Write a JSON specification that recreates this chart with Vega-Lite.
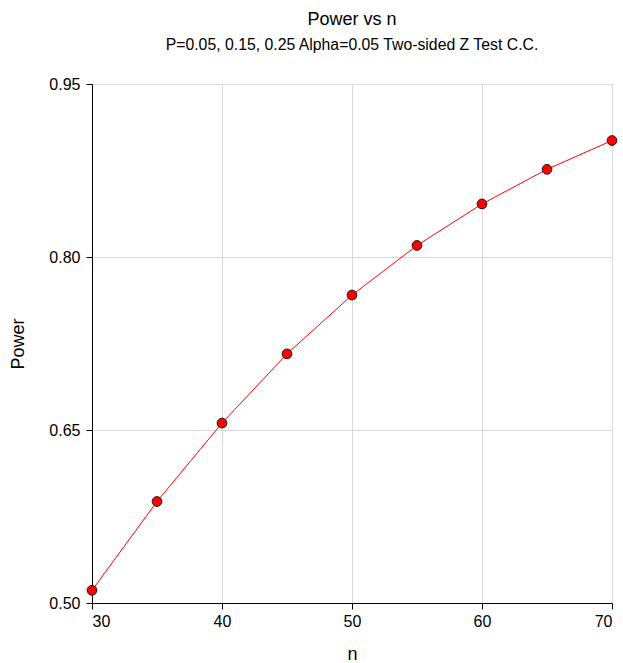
{
  "$schema": "https://vega.github.io/schema/vega-lite/v6.json",
  "width": 520,
  "height": 519,
  "autosize": {"type": "none"},
  "padding": {"left": 92, "top": 84, "right": 11, "bottom": 60},
  "background": "white",
  "config": {
    "font": "Liberation Sans",
    "view": {"stroke": null},
    "axis": {
      "domainColor": "#000000",
      "tickColor": "#000000",
      "gridColor": "#d9d9d9",
      "labelColor": "#000000",
      "titleColor": "#000000",
      "labelFont": "Liberation Sans",
      "titleFont": "Liberation Sans",
      "labelFontSize": 16,
      "titleFontSize": 18,
      "titleFontWeight": "normal",
      "tickSize": 6
    }
  },
  "title": {
    "text": "Power vs n",
    "subtitle": "P=0.05, 0.15, 0.25 Alpha=0.05 Two-sided Z Test C.C.",
    "font": "Liberation Sans",
    "fontSize": 18,
    "fontWeight": "normal",
    "color": "#000000",
    "subtitleFont": "Liberation Sans",
    "subtitleFontSize": 15.8,
    "subtitleColor": "#000000",
    "subtitlePadding": 9,
    "anchor": "middle",
    "frame": "group",
    "offset": 23
  },
  "data": {
    "values": [
      {"n": 30, "power": 0.511},
      {"n": 35, "power": 0.588},
      {"n": 40, "power": 0.656},
      {"n": 45, "power": 0.716},
      {"n": 50, "power": 0.767},
      {"n": 55, "power": 0.810},
      {"n": 60, "power": 0.846},
      {"n": 65, "power": 0.876},
      {"n": 70, "power": 0.901}
    ]
  },
  "encoding": {
    "x": {
      "field": "n",
      "type": "quantitative",
      "scale": {"domain": [30, 70], "nice": false, "zero": false},
      "axis": {"values": [30, 40, 50, 60, 70], "title": "n", "titlePadding": 16, "labelPadding": 4}
    },
    "y": {
      "field": "power",
      "type": "quantitative",
      "scale": {"domain": [0.5, 0.95], "nice": false, "zero": false},
      "axis": {"values": [0.5, 0.65, 0.8, 0.95], "format": ".2f", "title": "Power", "titlePadding": 21, "labelPadding": 6}
    }
  },
  "layer": [
    {"mark": {"type": "line", "color": "#ff0000", "strokeWidth": 1}},
    {"mark": {"type": "point", "shape": "circle", "filled": true, "fill": "#ff0000", "stroke": "#1a1a1a", "strokeWidth": 1, "size": 95, "opacity": 1}}
  ]
}
